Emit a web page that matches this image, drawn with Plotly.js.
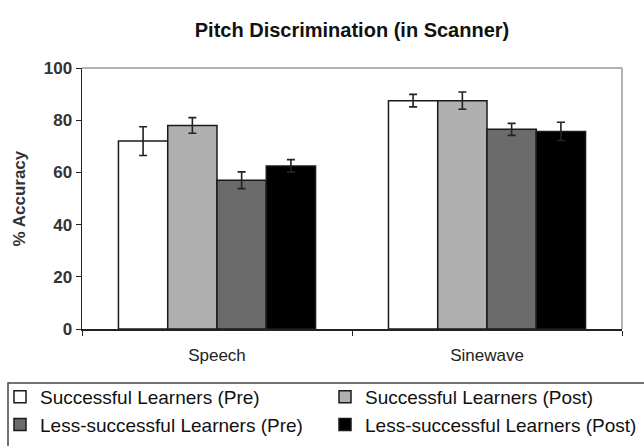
<!DOCTYPE html>
<html>
<head>
<meta charset="utf-8">
<script src="https://cdn.plot.ly/plotly-3.0.1.min.js"></script>
<style>html,body{margin:0;padding:0;background:#fff;}#chart{width:644px;height:446px;}</style>
</head>
<body>
<div id="chart"></div>
<script>
var categories = ['Speech', 'Sinewave'];
var seriesNames = ['Successful Learners (Pre)', 'Successful Learners (Post)', 'Less-successful Learners (Pre)', 'Less-successful Learners (Post)'];
var succPre = [72, 87.5];
var succPreErr = [5.5, 2.4];
var succPost = [78, 87.5];
var succPostErr = [3, 3.3];
var lessPre = [57, 76.5];
var lessPreErr = [3.2, 2.3];
var lessPost = [62.5, 75.7];
var lessPostErr = [2.4, 3.5];
var yTicks = [0, 20, 40, 60, 80, 100];
var yTitle = '% Accuracy';

var colors = ['#ffffff', '#b0b0b0', '#6b6b6b', '#000000'];
var vals = [succPre, succPost, lessPre, lessPost];
var errs = [succPreErr, succPostErr, lessPreErr, lessPostErr];
var legendOf = ['legend', 'legend2', 'legend', 'legend2'];
var font = 'Arial, "Liberation Sans", sans-serif';

var data = vals.map(function (v, i) {
  return {
    type: 'bar', x: categories, y: v, name: seriesNames[i], legend: legendOf[i],
    marker: {color: colors[i], line: {color: '#1a1a1a', width: 1.5}},
    error_y: {type: 'data', array: errs[i], visible: true, color: '#222', thickness: 1.6, width: 4}
  };
});

var legendFont = {size: 19, family: font, color: '#111'};
var legendTop = 1 - 378 / 446;

var layout = {
  width: 644, height: 446,
  paper_bgcolor: '#fff', plot_bgcolor: '#fff',
  margin: {l: 82, r: 22, t: 68, b: 117, autoexpand: false},
  font: {family: font, color: '#222'},
  title: {text: '<b>Pitch Discrimination (in Scanner)</b>', font: {size: 20, family: font, color: '#111'},
          x: 0.5, xref: 'paper', xanchor: 'center', y: 1 - 30 / 446, yref: 'container', yanchor: 'middle'},
  barmode: 'group', bargap: 0.27, bargroupgap: 0,
  showlegend: true,
  legend: {orientation: 'v', xref: 'container', x: 0, xanchor: 'left',
           yref: 'container', y: legendTop, yanchor: 'top',
           borderwidth: 0, bgcolor: 'rgba(0,0,0,0)', font: legendFont, traceorder: 'normal',
           itemwidth: 30, tracegroupgap: 0},
  legend2: {orientation: 'v', xref: 'container', x: 325 / 644, xanchor: 'left',
           yref: 'container', y: legendTop, yanchor: 'top',
           borderwidth: 0, bgcolor: 'rgba(0,0,0,0)', font: legendFont, traceorder: 'normal',
           itemwidth: 30, tracegroupgap: 0},
  xaxis: {type: 'category', showline: true, linecolor: '#222', linewidth: 1.5,
          ticks: 'outside', ticklen: 5, tickcolor: '#222', tickson: 'boundaries',
          ticklabelstandoff: 10,
          tickfont: {size: 17, family: font, color: '#222'}, showgrid: false, zeroline: false},
  yaxis: {range: [0, 100], tickvals: yTicks, ticktext: yTicks.map(String), showline: true,
          linecolor: '#222', linewidth: 1.5, ticks: 'outside', ticklen: 5, tickcolor: '#222',
          tickfont: {size: 17, family: font, color: '#333', weight: 'bold'}, showgrid: false, zeroline: false},
  annotations: [
    {text: '<b>' + yTitle + '</b>', xref: 'paper', yref: 'paper', x: (19 - 82) / 540, y: 0.5,
     xanchor: 'center', yanchor: 'middle', textangle: -90, showarrow: false,
     font: {size: 17, family: font, color: '#333'}}
  ],
  shapes: [
    {type: 'line', xref: 'paper', yref: 'paper', x0: 0, x1: 1, y0: 1, y1: 1, line: {color: '#999', width: 1.5}},
    {type: 'line', xref: 'paper', yref: 'paper', x0: 1, x1: 1, y0: 0, y1: 1, line: {color: '#999', width: 1.5}},
    {type: 'rect', xref: 'paper', yref: 'paper', x0: (8 - 82) / 540, x1: (660 - 82) / 540,
     y0: (329 - 383) / 261, y1: (329 - 460) / 261, line: {color: '#444', width: 1.5}, fillcolor: 'rgba(0,0,0,0)'}
  ]
};

Plotly.newPlot('chart', data, layout, {displayModeBar: false, staticPlot: true});
</script>
</body>
</html>
